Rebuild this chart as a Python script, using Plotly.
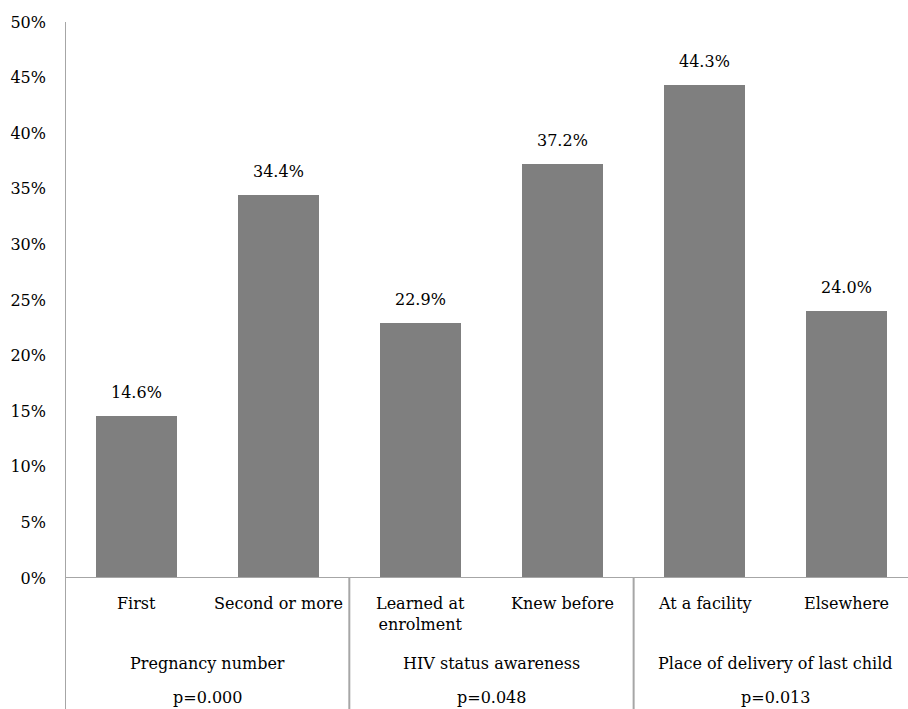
import plotly.graph_objects as go

categories = ["First", "Second or more", "Learned at<br>enrolment", "Knew before", "At a facility", "Elsewhere"]
values = [14.6, 34.4, 22.9, 37.2, 44.3, 24.0]
groups = ["Pregnancy number", "HIV status awareness", "Place of delivery of last child"]
pvalues = ["p=0.000", "p=0.048", "p=0.013"]
yticks = [0, 5, 10, 15, 20, 25, 30, 35, 40, 45, 50]

FONT = "DejaVu Serif"
AXIS_COLOR = "#a6a6a6"
BAR_COLOR = "#7f7f7f"
FS = 16

W, H = 908, 709
ML, MR, MT, MB = 65, 0, 22, 131
plot_h = H - MT - MB
xs = list(range(len(categories)))

fig = go.Figure()
fig.add_trace(go.Bar(x=xs, y=values, width=0.57, marker=dict(color=BAR_COLOR, line=dict(width=0)),
                     hoverinfo="skip"))

anns = []
for x, v in zip(xs, values):
    anns.append(dict(x=x, y=v, xref="x", yref="y", text=f"{v:.1f}%", showarrow=False,
                     yanchor="bottom", yshift=12, font=dict(family=FONT, size=FS, color="#000")))

def ypx(py):
    # pixel from top -> paper coordinate
    return (H - MB - py) / plot_h

for x, c in zip(xs, categories):
    anns.append(dict(x=x, y=ypx(592), xref="x", yref="paper", text=c, showarrow=False,
                     yanchor="top", font=dict(family=FONT, size=FS, color="#000")))
for i, (g, p) in enumerate(zip(groups, pvalues)):
    xc = 2 * i + 0.5
    anns.append(dict(x=xc, y=ypx(663), xref="x", yref="paper", text=g, showarrow=False,
                     yanchor="middle", font=dict(family=FONT, size=FS, color="#000")))
    anns.append(dict(x=xc, y=ypx(697), xref="x", yref="paper", text=p, showarrow=False,
                     yanchor="middle", font=dict(family=FONT, size=FS, color="#000")))

shapes = []
# y axis line extending below plot
shapes.append(dict(type="line", xref="x", yref="paper", x0=-0.5, x1=-0.5, y0=ypx(H + 5), y1=1,
                   line=dict(color=AXIS_COLOR, width=2)))
# x axis line
shapes.append(dict(type="line", xref="paper", yref="y", x0=0, x1=1, y0=0, y1=0,
                   line=dict(color=AXIS_COLOR, width=2)))
for sx in [1.5, 3.5]:
    shapes.append(dict(type="line", xref="x", yref="paper", x0=sx, x1=sx, y0=ypx(H + 5), y1=0,
                       line=dict(color=AXIS_COLOR, width=2)))

fig.update_layout(
    width=W, height=H,
    margin=dict(l=ML, r=MR, t=MT, b=MB),
    paper_bgcolor="white", plot_bgcolor="white",
    showlegend=False,
    bargap=0,
    font=dict(family=FONT),
    xaxis=dict(range=[-0.5, 5.43], showticklabels=False, showgrid=False, zeroline=False,
               showline=False, ticks=""),
    yaxis=dict(range=[0, 50], tickvals=yticks, ticktext=[f"{t}%" for t in yticks],
               showgrid=False, zeroline=False, showline=False, ticks="", ticklabelstandoff=18,
               tickfont=dict(family=FONT, size=FS, color="#000")),
    annotations=anns,
    shapes=shapes,
)

fig.write_html("out.html")
